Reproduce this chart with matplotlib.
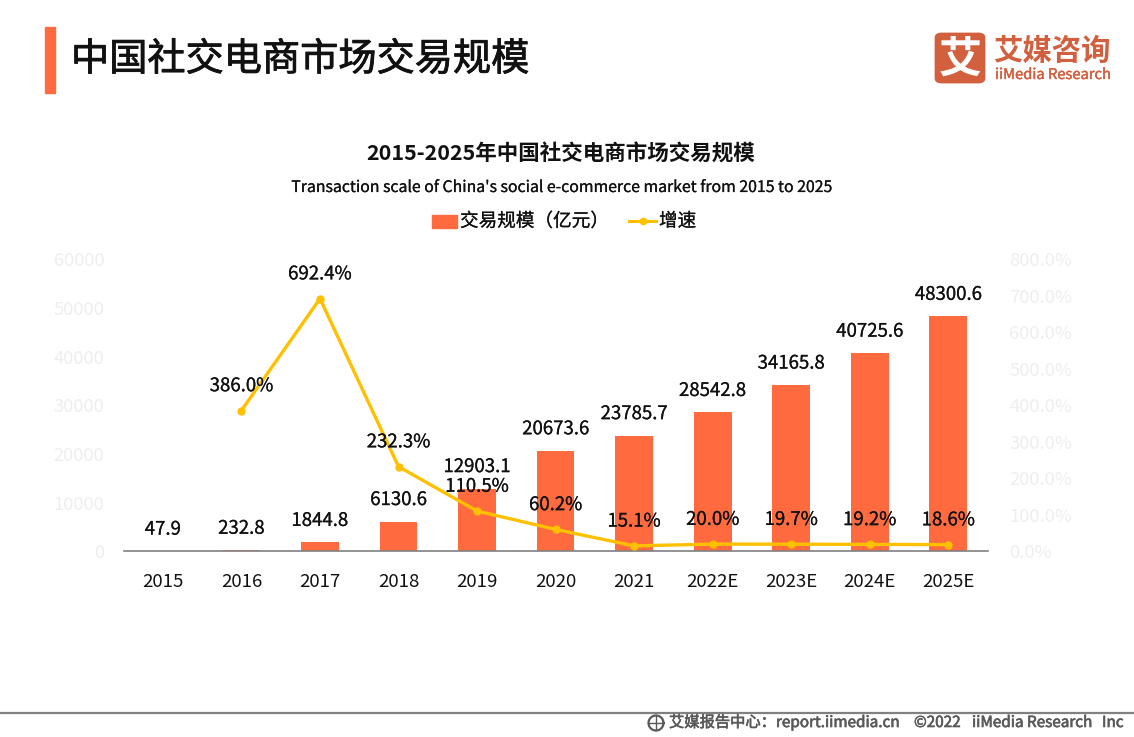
import matplotlib
matplotlib.use('Agg')
import matplotlib.pyplot as plt
import matplotlib.patheffects as pe
from matplotlib.patches import Rectangle, FancyBboxPatch
from matplotlib.lines import Line2D
import numpy as np

plt.rcParams['font.family'] = ['Noto Sans CJK SC', 'DejaVu Sans']

categories = ['2015','2016','2017','2018','2019','2020','2021','2022E','2023E','2024E','2025E']
scale_values = [47.9,232.8,1844.8,6130.6,12903.1,20673.6,23785.7,28542.8,34165.8,40725.6,48300.6]
growth_values = [np.nan,386.0,692.4,232.3,110.5,60.2,15.1,20.0,19.7,19.2,18.6]
left_ticks = [0,10000,20000,30000,40000,50000,60000]
right_ticks = [0,100,200,300,400,500,600,700,800]

W,H = 1134,737
fig = plt.figure(figsize=(W/100,H/100),dpi=100,facecolor='white')
def fx(x): return x/W
def fy(y): return 1-y/H
def heavy(t,w=0.35,c='#111111'):
    t.set_path_effects([pe.withStroke(linewidth=w,foreground=c)])
    return t

ax = fig.add_axes([fx(123.6),fy(551.4),864/W,(551.4-259.4)/H])
x = np.arange(len(categories))
ax.bar(x,scale_values,width=0.48,color='#FF6B3F',zorder=2)
ax.set_xlim(-0.5,10.5); ax.set_ylim(0,60000)
ax.set_xticks(x); ax.set_xticklabels(categories,fontsize=13.4,color='#111111')
ax.set_yticks(left_ticks); ax.set_yticklabels([str(t) for t in left_ticks],fontsize=13.3,color='#EEEEEE')
ax.tick_params(axis='x',length=0,pad=15.5)
ax.tick_params(axis='y',length=0,pad=14)
for s in ['top','left','right']: ax.spines[s].set_visible(False)
ax.spines['bottom'].set_color('#808080'); ax.spines['bottom'].set_linewidth(1.2); ax.spines['bottom'].set_zorder(5)

ax2 = ax.twinx()
ax2.plot(x,growth_values,color='#FFC000',lw=2.4,marker='o',ms=5,zorder=3)
ax2.set_ylim(0,800)
ax2.set_yticks(right_ticks); ax2.set_yticklabels([f'{t:.1f}%' for t in right_ticks],fontsize=13.3,color='#EEEEEE')
ax2.tick_params(axis='y',length=0,pad=15.5)
for s in ['top','left','right','bottom']: ax2.spines[s].set_visible(False)

for xi,v in zip(x,scale_values):
    heavy(ax2.annotate(f'{v:.1f}',xy=(xi,v/60000*800),xytext=(0,15.5),textcoords='offset points',ha='center',va='center',fontsize=13.4,color='#111111',zorder=5),0.15)
for xi,v in zip(x,growth_values):
    if not np.isnan(v):
        heavy(ax2.annotate(f'{v:.1f}%',xy=(xi,v),xytext=(0,17.5),textcoords='offset points',ha='center',va='center',fontsize=13.4,color='#111111',zorder=6),0.15)

# header
fig.add_artist(Rectangle((fx(45),fy(93)),10/W,66/H,color='#FF6B3F',transform=fig.transFigure))
heavy(fig.text(fx(71),fy(60),'中国社交电商市场交易规模',fontsize=27.5,color='#111111',va='center',ha='left'),0.6)
fig.text(fx(561),fy(154),'2015-2025年中国社交电商市场交易规模',fontsize=15.5,weight='bold',color='#111111',va='center',ha='center')
heavy(fig.text(fx(562),fy(187.5),"Transaction scale of China's social e-commerce market from 2015 to 2025",fontsize=11.4,color='#111111',va='center',ha='center'),0.15)

# legend
fig.add_artist(Rectangle((fx(432),fy(228)),25/W,13/H,color='#FF6B3F',transform=fig.transFigure))
heavy(fig.text(fx(460),fy(221.5),'交易规模（亿元）',fontsize=13.4,color='#111111',va='center',ha='left'),0.15)
fig.add_artist(Line2D([fx(629),fx(656)],[fy(221),fy(221)],color='#FFC000',lw=2.2,transform=fig.transFigure))
fig.add_artist(Line2D([fx(642.5)],[fy(221)],color='#FFC000',marker='o',ms=4.5,transform=fig.transFigure))
heavy(fig.text(fx(659),fy(221.5),'增速',fontsize=13.4,color='#111111',va='center',ha='left'),0.15)

# logo
logo='#D2603F'
fig.add_artist(FancyBboxPatch((fx(936),fy(82)),48/W,48/H,boxstyle='round,pad=0,rounding_size=0.005',
    facecolor=logo,edgecolor=logo,lw=2,transform=fig.transFigure))
fig.text(fx(960),fy(60),'艾',fontsize=31,weight='bold',color='white',ha='center',va='center')
fig.text(fx(993.5),fy(51),'艾媒咨询',fontsize=21.2,weight='bold',color=logo,ha='left',va='center')
heavy(fig.text(fx(995),fy(75),'iiMedia Research',fontsize=10.6,color=logo,ha='left',va='center'),0.3,logo)

# footer
grey='#595959'
fig.add_artist(Line2D([0,1],[fy(712.5),fy(712.5)],color='#808080',lw=1.6,transform=fig.transFigure))
gx,gy=656,723
ts=np.linspace(0,2*np.pi,40)
fig.add_artist(Line2D([fx(gx+7.5*np.cos(t)) for t in ts],[fy(gy+7.5*np.sin(t)) for t in ts],color=grey,lw=1.6,transform=fig.transFigure))
fig.add_artist(Line2D([fx(gx),fx(gx)],[fy(gy-7),fy(gy+7)],color=grey,lw=1,transform=fig.transFigure))
fig.add_artist(Line2D([fx(gx-7),fx(gx+7)],[fy(gy),fy(gy)],color=grey,lw=1,transform=fig.transFigure))
for px,s in [(669,'艾媒报告中心：report.iimedia.cn'),(914,'©2022'),(972,'iiMedia Research'),(1102,'Inc')]:
    heavy(fig.text(fx(px),fy(722.5),s,fontsize=11,color=grey,va='center',ha='left'),0.45,grey)

fig.savefig('out.png',dpi=100)
